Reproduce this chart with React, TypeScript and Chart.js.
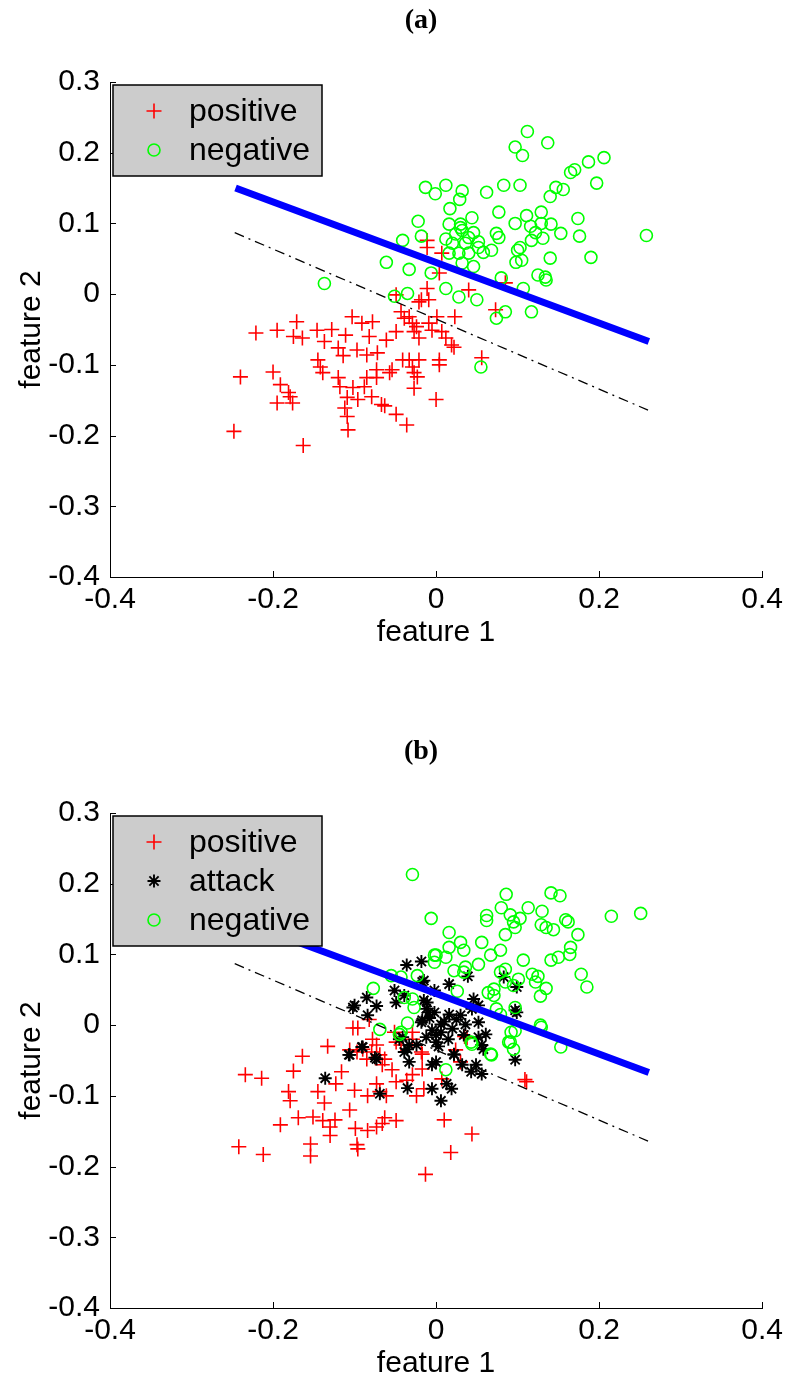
import React, { useEffect, useRef } from 'react';
import { Chart, registerables } from 'chart.js';

Chart.register(...registerables);

const FONT = '"Liberation Sans", Arial, Helvetica, sans-serif';
const SERIF = '"Liberation Serif", "Times New Roman", serif';

const xTickValues = [-0.4, -0.2, 0, 0.2, 0.4];
const yTickValues = [-0.4, -0.3, -0.2, -0.1, 0, 0.1, 0.2, 0.3];

// separating lines (same in both panels)
const boundaryLine: [number, number][] = [[-0.246, 0.150], [0.261, -0.067]];
const shiftedLine: [number, number][] = [[-0.247, 0.087], [0.260, -0.164]];

// panel (a)
const positiveA: [number, number][] = [
  [-0.221, -0.055], [-0.195, -0.051], [-0.171, -0.039], [-0.175, -0.060], [-0.164, -0.062], [-0.146, -0.051],
  [-0.128, -0.050], [-0.137, -0.067], [-0.111, -0.058], [-0.103, -0.032], [-0.091, -0.041], [-0.078, -0.039],
  [-0.082, -0.060], [-0.120, -0.076], [-0.114, -0.087], [-0.097, -0.079], [-0.085, -0.086], [-0.072, -0.083],
  [-0.061, -0.065], [-0.049, -0.053], [-0.145, -0.093], [-0.142, -0.103], [-0.139, -0.111], [-0.120, -0.118],
  [-0.118, -0.131], [-0.102, -0.132], [-0.088, -0.131], [-0.085, -0.118], [-0.109, -0.146], [-0.096, -0.149],
  [-0.079, -0.145], [-0.112, -0.161], [-0.109, -0.173], [-0.108, -0.192], [-0.073, -0.107], [-0.073, -0.118],
  [-0.067, -0.156], [-0.063, -0.158], [-0.054, -0.107], [-0.057, -0.111], [-0.049, -0.170], [-0.036, -0.185],
  [-0.041, -0.093], [-0.033, -0.093], [-0.021, -0.093], [0.004, -0.093], [0.004, -0.100], [-0.029, -0.103],
  [-0.027, -0.111], [-0.023, -0.117], [-0.027, -0.133], [0.000, -0.149], [-0.043, -0.025], [-0.039, -0.034],
  [-0.029, -0.041], [-0.027, -0.053], [-0.021, -0.062], [-0.009, -0.041], [-0.005, -0.051], [0.001, -0.032],
  [0.007, -0.053], [0.012, -0.062], [0.023, -0.032], [0.022, -0.075], [-0.021, -0.011], [-0.009, -0.008],
  [-0.011, 0.008], [-0.049, -0.001], [0.040, 0.006], [0.056, -0.090], [0.073, -0.022], [-0.240, -0.117],
  [-0.200, -0.110], [-0.191, -0.128], [-0.181, -0.139], [-0.179, -0.145], [-0.195, -0.154], [-0.176, -0.154],
  [-0.248, -0.194], [-0.163, -0.214], [-0.011, 0.076], [-0.011, 0.066], [0.007, 0.058], [0.004, 0.030],
  [-0.018, -0.008], [0.085, 0.016], [-0.033, -0.032], [-0.024, -0.046], [0.019, -0.072],
];

const negativeA: [number, number][] = [
  [0.112, 0.230], [0.097, 0.208], [0.106, 0.196], [0.137, 0.214], [0.187, 0.187], [0.206, 0.193], [0.165, 0.172],
  [0.170, 0.176], [0.197, 0.157], [-0.013, 0.151], [-0.001, 0.142], [0.012, 0.154], [0.032, 0.146], [0.029, 0.134],
  [0.062, 0.144], [0.083, 0.154], [0.103, 0.154], [0.147, 0.151], [0.156, 0.148], [0.140, 0.138], [0.017, 0.121],
  [0.077, 0.116], [0.111, 0.111], [0.129, 0.116], [0.174, 0.107], [-0.022, 0.103], [0.016, 0.099], [0.030, 0.099],
  [0.044, 0.108], [0.032, 0.090], [0.046, 0.087], [0.097, 0.100], [0.116, 0.096], [0.129, 0.100], [0.141, 0.099],
  [0.153, 0.086], [0.176, 0.082], [0.258, 0.083], [0.074, 0.086], [0.077, 0.080], [0.117, 0.076], [0.131, 0.079],
  [-0.041, 0.076], [-0.018, 0.082], [0.020, 0.072], [0.036, 0.072], [0.052, 0.066], [0.068, 0.062], [0.016, 0.058],
  [0.028, 0.058], [0.040, 0.058], [0.103, 0.066], [0.105, 0.048], [0.140, 0.051], [0.190, 0.052], [-0.033, 0.035],
  [0.032, 0.044], [0.046, 0.039], [0.125, 0.027], [0.135, 0.020], [0.134, 0.024], [0.080, 0.023], [0.012, 0.008],
  [0.028, -0.004], [0.050, -0.008], [0.107, 0.008], [-0.035, 0.001], [0.085, -0.025], [0.074, -0.034],
  [0.117, -0.025], [-0.061, 0.045], [-0.006, 0.030], [-0.137, 0.015], [-0.051, -0.003], [0.055, -0.103],
  [0.030, 0.094], [0.024, 0.085], [0.012, 0.078], [0.040, 0.080], [0.052, 0.074], [0.122, 0.087], [0.058, 0.059],
  [0.100, 0.062], [0.098, 0.045],
];

// panel (b)
const positiveB: [number, number][] = [
  [-0.082, 0.008], [-0.102, -0.004], [-0.096, -0.004], [-0.078, -0.020], [-0.073, -0.028], [-0.133, -0.030],
  [-0.164, -0.044], [-0.097, -0.038], [-0.085, -0.048], [-0.063, -0.048], [-0.049, -0.024], [-0.029, -0.020],
  [-0.043, -0.028], [-0.018, -0.038], [-0.051, -0.010], [-0.029, -0.010], [-0.017, -0.041], [0.030, -0.052],
  [0.024, -0.035], [0.109, -0.077], [0.035, -0.016], [-0.234, -0.070], [-0.214, -0.075], [-0.242, -0.172],
  [-0.212, -0.183], [-0.175, -0.065], [-0.181, -0.094], [-0.179, -0.107], [-0.191, -0.141], [-0.169, -0.131],
  [-0.151, -0.130], [-0.145, -0.094], [-0.137, -0.110], [-0.139, -0.135], [-0.130, -0.144], [-0.124, -0.134],
  [-0.130, -0.156], [-0.154, -0.168], [-0.154, -0.185], [-0.116, -0.066], [-0.123, -0.083], [-0.106, -0.120],
  [-0.100, -0.092], [-0.084, -0.100], [-0.099, -0.146], [-0.084, -0.149], [-0.097, -0.169], [-0.096, -0.175],
  [-0.073, -0.144], [-0.063, -0.131], [-0.049, -0.135], [-0.066, -0.139], [-0.106, -0.035], [-0.090, -0.034],
  [-0.079, -0.038], [-0.069, -0.042], [-0.066, -0.056], [-0.054, -0.063], [-0.073, -0.083], [-0.069, -0.094],
  [-0.061, -0.100], [-0.049, -0.080], [-0.036, -0.078], [-0.029, -0.070], [-0.024, -0.100], [-0.015, -0.090],
  [-0.017, -0.062], [0.010, -0.134], [0.044, -0.154], [0.018, -0.180], [-0.013, -0.211], [0.111, -0.080],
  [0.038, -0.018], [0.007, -0.076],
];

const attackB: [number, number][] = [
  [-0.036, 0.085], [-0.018, 0.090], [-0.015, 0.063], [-0.051, 0.049], [-0.049, 0.032], [-0.085, 0.039],
  [-0.073, 0.027], [-0.100, 0.028], [-0.011, 0.032], [-0.009, 0.018], [-0.018, 0.004], [-0.005, -0.007],
  [0.000, -0.024], [-0.045, -0.020], [-0.033, -0.028], [-0.039, -0.038], [-0.091, -0.031], [-0.106, -0.042],
  [-0.075, -0.046], [0.016, 0.058], [-0.002, 0.049], [-0.017, 0.061], [0.039, 0.069], [0.083, 0.068],
  [0.099, 0.054], [-0.039, 0.042], [-0.015, 0.035], [-0.002, 0.018], [-0.012, 0.023], [0.016, 0.015],
  [0.030, 0.014], [0.046, 0.037], [0.052, 0.028], [0.044, 0.023], [0.099, 0.018], [-0.017, 0.007],
  [0.006, -0.010], [0.000, -0.014], [-0.012, -0.017], [0.006, 0.001], [0.036, 0.001], [0.052, 0.004],
  [0.061, -0.013], [0.056, -0.028], [0.034, -0.014], [-0.035, -0.034], [-0.024, -0.028], [-0.033, -0.052],
  [-0.005, -0.056], [0.022, -0.041], [0.032, -0.056], [0.049, -0.056], [0.056, -0.069], [0.097, -0.049],
  [-0.136, -0.075], [-0.107, -0.042], [-0.090, -0.031], [-0.073, -0.048], [-0.069, -0.097], [-0.035, -0.089],
  [-0.041, -0.017], [-0.005, -0.090], [0.006, -0.107], [0.000, -0.052], [0.013, -0.083], [0.019, -0.090],
  [0.022, -0.042], [0.043, -0.066], [0.052, -0.017], [0.058, -0.034], [0.097, 0.021], [-0.102, 0.025],
  [-0.084, 0.014], [0.010, 0.005], [0.020, -0.005], [0.015, -0.020], [-0.008, 0.010], [0.025, 0.008],
  [0.003, -0.030],
];

const negativeB: [number, number][] = [
  [-0.029, 0.213], [-0.006, 0.151], [-0.002, 0.099], [-0.002, 0.089], [-0.023, 0.070], [-0.055, 0.070],
  [-0.043, 0.068], [-0.077, 0.052], [-0.039, 0.039], [-0.029, 0.037], [-0.027, 0.025], [-0.035, 0.003],
  [-0.069, -0.006], [-0.043, -0.010], [0.086, 0.185], [0.141, 0.187], [0.152, 0.183], [0.080, 0.166],
  [0.113, 0.166], [0.130, 0.161], [0.062, 0.155], [0.062, 0.148], [0.091, 0.156], [0.095, 0.146],
  [0.103, 0.151], [0.159, 0.149], [0.162, 0.146], [0.215, 0.154], [0.251, 0.158], [0.129, 0.142],
  [0.135, 0.138], [0.144, 0.135], [0.016, 0.131], [0.085, 0.128], [0.097, 0.138], [0.174, 0.128],
  [0.056, 0.117], [0.030, 0.117], [0.034, 0.106], [0.016, 0.110], [0.012, 0.096], [0.000, 0.099],
  [0.022, 0.077], [0.079, 0.106], [0.067, 0.099], [0.052, 0.086], [0.036, 0.082], [0.034, 0.075],
  [0.107, 0.092], [0.141, 0.092], [0.150, 0.096], [0.165, 0.110], [0.164, 0.100], [0.079, 0.075],
  [0.085, 0.079], [0.118, 0.072], [0.125, 0.069], [0.122, 0.061], [0.135, 0.052], [0.128, 0.041],
  [0.178, 0.072], [0.185, 0.054], [0.101, 0.065], [0.095, 0.056], [0.085, 0.061], [0.026, 0.048],
  [0.071, 0.051], [0.071, 0.042], [0.064, 0.046], [0.074, 0.023], [0.097, 0.025], [0.079, 0.015],
  [0.129, -0.003], [0.092, -0.010], [0.091, -0.024], [0.095, -0.034], [0.153, -0.031], [-0.045, -0.013],
  [0.044, -0.027], [0.068, -0.042], [0.012, -0.063], [0.043, -0.024], [0.067, -0.041], [0.089, -0.024],
  [0.128, 0.000], [0.097, -0.008],
];

type Style = 'cross' | 'circle' | 'star';
const RED = '#ff0000';
const GREEN = '#00ff00';
const BLACK = '#000000';
const BLUE = '#0000ff';

const markerRadius: Record<Style, number> = { cross: 7.5, star: 6.5, circle: 6 };
const markerWidth: Record<Style, number> = { cross: 1.6, star: 1.9, circle: 1.6 };

function drawMarker(ctx: CanvasRenderingContext2D, style: Style, x: number, y: number, color: string) {
  ctx.save();
  ctx.strokeStyle = color;
  ctx.lineWidth = markerWidth[style];
  ctx.beginPath();
  const r = markerRadius[style];
  if (style === 'cross') {
    ctx.moveTo(x - r, y); ctx.lineTo(x + r, y);
    ctx.moveTo(x, y - r); ctx.lineTo(x, y + r);
  } else if (style === 'star') {
    const d = r * Math.SQRT1_2;
    ctx.moveTo(x - r, y); ctx.lineTo(x + r, y);
    ctx.moveTo(x, y - r); ctx.lineTo(x, y + r);
    ctx.moveTo(x - d, y - d); ctx.lineTo(x + d, y + d);
    ctx.moveTo(x - d, y + d); ctx.lineTo(x + d, y - d);
  } else {
    ctx.arc(x, y, r, 0, Math.PI * 2);
  }
  ctx.stroke();
  ctx.restore();
}

const matlabPlugin = {
  id: 'matlabDecor',
  afterDatasetsDraw(chart: any) {
    const { ctx, chartArea, scales } = chart;
    ctx.save();
    ctx.strokeStyle = '#000';
    ctx.lineWidth = 1;
    for (const v of xTickValues) {
      const px = Math.round(scales.x.getPixelForValue(v)) + 0.5;
      ctx.beginPath();
      ctx.moveTo(px, chartArea.bottom);
      ctx.lineTo(px, chartArea.bottom - 6);
      ctx.stroke();
    }
    for (const v of yTickValues) {
      const py = Math.round(scales.y.getPixelForValue(v)) + 0.5;
      ctx.beginPath();
      ctx.moveTo(chartArea.left, py);
      ctx.lineTo(chartArea.left + 6, py);
      ctx.stroke();
    }
    ctx.restore();
  },
  afterDraw(chart: any, _args: any, opts: any) {
    const { ctx, chartArea } = chart;
    const entries: { label: string; style: Style; color: string }[] = opts.entries || [];
    ctx.save();
    // title
    ctx.fillStyle = '#000';
    ctx.font = `bold 28px ${SERIF}`;
    ctx.textAlign = 'center';
    ctx.textBaseline = 'middle';
    ctx.fillText(opts.title, (chartArea.left + chartArea.right) / 2 - 15, 21);
    // legend box
    const x0 = chartArea.left + 3;
    const y0 = chartArea.top + 3;
    const w = 209;
    const h = 13 + 39 * entries.length;
    ctx.fillStyle = '#cccccc';
    ctx.fillRect(x0, y0, w, h);
    ctx.strokeStyle = '#000';
    ctx.lineWidth = 1.5;
    ctx.strokeRect(x0, y0, w, h);
    entries.forEach((e, i) => {
      const cy = y0 + 26 + 39 * i;
      drawMarker(ctx, e.style, x0 + 41, cy, e.color);
      ctx.fillStyle = '#000';
      ctx.font = `32px ${FONT}`;
      ctx.textAlign = 'left';
      ctx.textBaseline = 'middle';
      ctx.fillText(e.label, x0 + 76, cy + 1);
    });
    ctx.restore();
  },
};

const toXY = (arr: [number, number][]) => arr.map(([x, y]) => ({ x, y }));

function lineDataset(pts: [number, number][], color: string, width: number, dash: number[]) {
  return {
    data: toXY(pts),
    showLine: true,
    borderColor: color,
    backgroundColor: color,
    borderWidth: width,
    borderDash: dash,
    pointRadius: 0,
    fill: false,
  };
}

function scatterDataset(pts: [number, number][], style: Style, color: string) {
  return {
    data: toXY(pts),
    pointStyle: style,
    pointRadius: markerRadius[style],
    pointBorderWidth: markerWidth[style],
    borderColor: color,
    backgroundColor: 'rgba(0,0,0,0)',
    pointBackgroundColor: 'rgba(0,0,0,0)',
    pointBorderColor: color,
    showLine: false,
  };
}

function buildConfig(title: string, groups: { pts: [number, number][]; style: Style; color: string; label: string }[]) {
  // first dataset is drawn on top in Chart.js
  const datasets: any[] = [
    lineDataset(boundaryLine, BLUE, 7, []),
    lineDataset(shiftedLine, BLACK, 1.3, [10, 5, 2, 5]),
    ...groups.slice().reverse().map((g) => scatterDataset(g.pts, g.style, g.color)),
  ];
  const tickFmt = (v: any) => {
    const r = Math.round(Number(v) * 10) / 10;
    return r === 0 ? '0' : String(r);
  };
  return {
    type: 'scatter' as const,
    data: { datasets },
    plugins: [matlabPlugin],
    options: {
      responsive: false,
      animation: false as const,
      events: [],
      devicePixelRatio: 1,
      layout: { padding: { left: 14, right: 23, top: 82, bottom: 80 } },
      plugins: {
        legend: { display: false },
        tooltip: { enabled: false },
        title: { display: false },
        matlabDecor: {
          title,
          entries: groups.map((g) => ({ label: g.label, style: g.style, color: g.color })),
        },
      },
      scales: {
        x: {
          type: 'linear' as const,
          min: -0.4,
          max: 0.4,
          afterBuildTicks: (s: any) => { s.ticks = xTickValues.map((value) => ({ value })); },
          afterFit: (s: any) => { s.height = 74; },
          grid: { display: true, drawOnChartArea: false, drawTicks: false },
          border: { display: true, color: '#000', width: 1 },
          ticks: { color: '#000', font: { family: FONT, size: 30 }, padding: 5, callback: tickFmt, maxRotation: 0, autoSkip: false },
          title: { display: true, text: 'feature 1', color: '#000', font: { family: FONT, size: 30 }, padding: 0 },
        },
        y: {
          type: 'linear' as const,
          min: -0.4,
          max: 0.3,
          afterBuildTicks: (s: any) => { s.ticks = yTickValues.map((value) => ({ value })); },
          afterFit: (s: any) => { s.width = 96; },
          grid: { display: true, drawOnChartArea: false, drawTicks: false },
          border: { display: true, color: '#000', width: 1 },
          ticks: { color: '#000', font: { family: FONT, size: 30 }, padding: 10, callback: tickFmt, autoSkip: false },
          title: { display: true, text: 'feature 2', color: '#000', font: { family: FONT, size: 30 }, padding: 0 },
        },
      },
    },
  };
}

function Panel({ config, height }: { config: () => any; height: number }) {
  const ref = useRef<HTMLCanvasElement>(null);
  useEffect(() => {
    if (!ref.current) return;
    const chart = new Chart(ref.current, config());
    return () => chart.destroy();
  }, []);
  return <canvas ref={ref} width={788} height={height} style={{ display: 'block', width: 788, height }} />;
}

export default function App() {
  const cfgA = () =>
    buildConfig('(a)', [
      { pts: positiveA, style: 'cross', color: RED, label: 'positive' },
      { pts: negativeA, style: 'circle', color: GREEN, label: 'negative' },
    ]);
  const cfgB = () =>
    buildConfig('(b)', [
      { pts: positiveB, style: 'cross', color: RED, label: 'positive' },
      { pts: attackB, style: 'star', color: BLACK, label: 'attack' },
      { pts: negativeB, style: 'circle', color: GREEN, label: 'negative' },
    ]);
  return (
    <div style={{ position: 'absolute', left: 0, top: 0, width: 788, height: 1378, overflow: 'hidden', background: '#fff' }}>
      <Panel config={cfgA} height={731} />
      <Panel config={cfgB} height={731} />
    </div>
  );
}
